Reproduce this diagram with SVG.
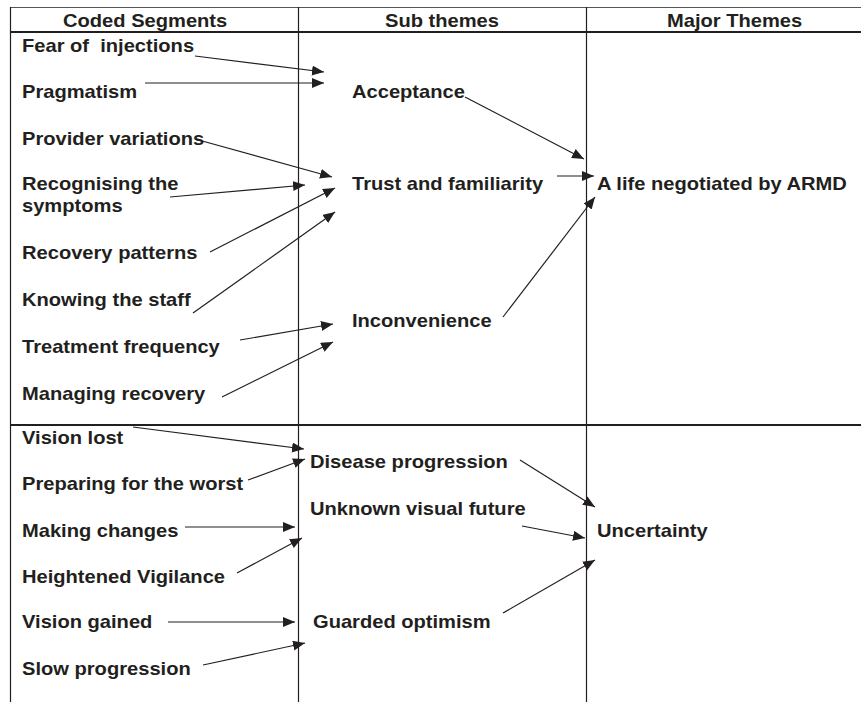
<svg xmlns="http://www.w3.org/2000/svg" width="861" height="702" viewBox="0 0 861 702">
<style>
  text { font-family: "Liberation Sans", Arial, sans-serif; font-weight: bold; font-size: 17.5px; fill: #231f20; white-space: pre; }
  .grid { stroke: #231f20; stroke-width: 1.2; fill: none; }
  .thick { stroke: #231f20; stroke-width: 2.2; fill: none; }
  .thin { stroke: #555; stroke-width: 1; fill: none; }
  .conn line { stroke: #231f20; stroke-width: 1.2; marker-end: url(#ah); }
</style>
<defs>
  <marker id="ah" markerUnits="userSpaceOnUse" markerWidth="13" markerHeight="11" refX="12" refY="5" orient="auto">
    <path d="M0,0 L12,5 L0,10 z" fill="#231f20"/>
  </marker>
</defs>
<rect width="861" height="702" fill="#fff"/>
<g id="table">
  <line class="thin" x1="10" y1="7.5" x2="861" y2="7.5"/>
  <line class="thick" x1="10" y1="32" x2="861" y2="32"/>
  <line class="thick" x1="10" y1="425" x2="861" y2="425"/>
  <line class="grid" x1="10.5" y1="7" x2="10.5" y2="702"/>
  <line class="grid" x1="298.5" y1="7" x2="298.5" y2="702"/>
  <line class="grid" x1="586.5" y1="7" x2="586.5" y2="702"/>
</g>
<g id="headers">
  <text transform="translate(63 27) scale(1.15 1)">Coded Segments</text>
  <text transform="translate(385 27) scale(1.15 1)">Sub themes</text>
  <text transform="translate(667 27) scale(1.15 1)">Major Themes</text>
</g>
<g id="n-fear"><text transform="translate(22 52) scale(1.15 1)">Fear of  injections</text></g>
<g id="n-pragmatism"><text transform="translate(22 98) scale(1.15 1)">Pragmatism</text></g>
<g id="n-provider"><text transform="translate(22 145) scale(1.15 1)">Provider variations</text></g>
<g id="n-recognising"><text transform="translate(22 190) scale(1.15 1)">Recognising the</text><text transform="translate(22 212) scale(1.15 1)">symptoms</text></g>
<g id="n-recovery-patterns"><text transform="translate(22 259) scale(1.15 1)">Recovery patterns</text></g>
<g id="n-knowing"><text transform="translate(22 306) scale(1.15 1)">Knowing the staff</text></g>
<g id="n-treatment"><text transform="translate(22 353) scale(1.15 1)">Treatment frequency</text></g>
<g id="n-managing"><text transform="translate(22 400) scale(1.15 1)">Managing recovery</text></g>
<g id="n-vision-lost"><text transform="translate(22 444) scale(1.15 1)">Vision lost</text></g>
<g id="n-preparing"><text transform="translate(22 490) scale(1.15 1)">Preparing for the worst</text></g>
<g id="n-making"><text transform="translate(22 537) scale(1.15 1)">Making changes</text></g>
<g id="n-heightened"><text transform="translate(22 583) scale(1.15 1)">Heightened Vigilance</text></g>
<g id="n-vision-gained"><text transform="translate(22 628) scale(1.15 1)">Vision gained</text></g>
<g id="n-slow"><text transform="translate(22 675) scale(1.15 1)">Slow progression</text></g>
<g id="s-acceptance"><text transform="translate(352 98) scale(1.15 1)">Acceptance</text></g>
<g id="s-trust"><text transform="translate(352 190) scale(1.15 1)">Trust and familiarity</text></g>
<g id="s-inconvenience"><text transform="translate(352 327) scale(1.15 1)">Inconvenience</text></g>
<g id="s-disease"><text transform="translate(310 468) scale(1.15 1)">Disease progression</text></g>
<g id="s-unknown"><text transform="translate(310 515) scale(1.15 1)">Unknown visual future</text></g>
<g id="s-guarded"><text transform="translate(313 628) scale(1.15 1)">Guarded optimism</text></g>
<g id="m-life"><text transform="translate(597 190) scale(1.15 1)">A life negotiated by ARMD</text></g>
<g id="m-uncertainty"><text transform="translate(597 537) scale(1.15 1)">Uncertainty</text></g>
<g id="connectors" class="conn">
  <line x1="195" y1="56" x2="324" y2="72"/>
  <line x1="145" y1="83" x2="324" y2="83"/>
  <line x1="195" y1="139" x2="332" y2="177"/>
  <line x1="170" y1="197" x2="305" y2="185"/>
  <line x1="210" y1="252" x2="335" y2="188"/>
  <line x1="193" y1="313" x2="335" y2="212"/>
  <line x1="240" y1="340" x2="333" y2="324"/>
  <line x1="222" y1="397" x2="333" y2="342"/>
  <line x1="465" y1="97" x2="584" y2="159"/>
  <line x1="557" y1="176" x2="594" y2="176"/>
  <line x1="503" y1="317" x2="595" y2="197"/>
  <line x1="133" y1="427" x2="304" y2="449"/>
  <line x1="248" y1="480" x2="305" y2="459"/>
  <line x1="185" y1="527" x2="295" y2="527"/>
  <line x1="237" y1="573" x2="302" y2="538"/>
  <line x1="168" y1="622" x2="295" y2="622"/>
  <line x1="203" y1="665" x2="305" y2="643"/>
  <line x1="520" y1="460" x2="595" y2="507"/>
  <line x1="522" y1="526" x2="585" y2="538"/>
  <line x1="503" y1="613" x2="595" y2="560"/>
</g>
</svg>
